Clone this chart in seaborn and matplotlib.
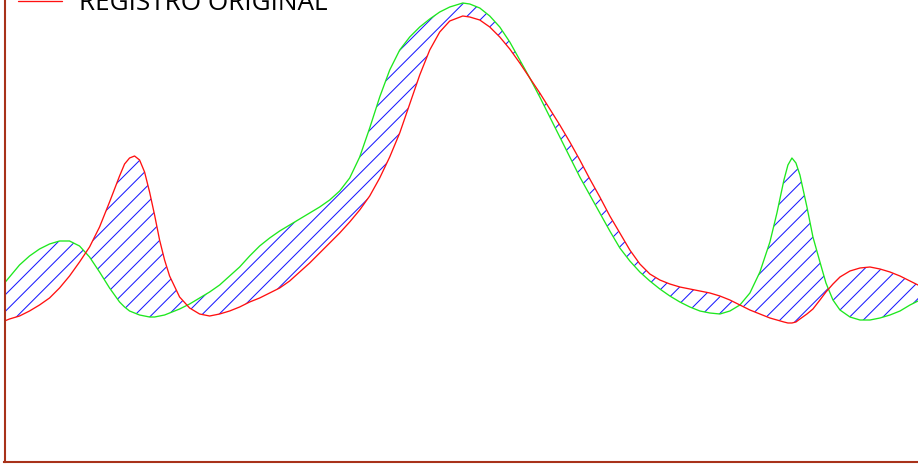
import numpy as np
import pandas as pd
import matplotlib
matplotlib.use('Agg')
import matplotlib.pyplot as plt
import seaborn as sns

# sample positions along the record
posicion = [5, 10, 20, 30, 40, 50, 60, 70, 80, 90, 100, 110, 120, 125, 130, 135, 140,
            145, 150, 155, 160, 165, 170, 180, 190, 200, 210, 220, 230, 240, 250, 260,
            270, 280, 290, 300, 310, 320, 330, 340, 350, 360, 370, 380, 390, 400, 410,
            420, 430, 440, 450, 463, 470, 480, 490, 500, 510, 520, 530, 540, 550, 560,
            570, 580, 590, 600, 610, 620, 630, 640, 650, 660, 670, 680, 690, 700, 710,
            720, 730, 740, 750, 760, 770, 777, 784, 788, 792, 796, 800, 807, 813, 820,
            826, 833, 840, 850, 860, 870, 880, 890, 900, 910, 918]

# values measured downward from the top of the panel (axis is inverted)
# original record (red)
registro_original = [321, 319, 316, 311, 305, 298, 288, 276, 262, 247, 227, 202, 176, 164,
                     158, 156, 160, 172, 192, 215, 240, 260, 276, 297, 308, 314, 316, 314,
                     311, 307, 302, 298, 293, 288, 281, 272, 263, 253, 243, 233, 222, 210,
                     196, 178, 157, 133, 104, 75, 50, 32, 21, 16, 17, 20, 27, 37, 49, 63,
                     78, 93, 109, 125, 142, 160, 179, 197, 216, 233, 250, 264, 274, 280,
                     284, 287, 289, 291, 293, 296, 300, 305, 310, 314, 318, 320, 322, 323,
                     323, 322, 319, 314, 309, 300, 292, 284, 277, 271, 268, 267, 269, 272,
                     276, 281, 285]

# adjusted record (green)
registro_ajustado = [283, 277, 265, 256, 249, 244, 241, 241, 246, 257, 272, 288, 302, 307,
                     311, 313, 315, 316, 317, 317, 316, 315, 313, 309, 304, 298, 292, 285,
                     276, 267, 256, 246, 238, 231, 225, 219, 213, 207, 200, 191, 178, 157,
                     128, 97, 70, 50, 37, 27, 19, 12, 7, 3, 4, 8, 16, 27, 42, 60, 78, 97,
                     117, 137, 157, 177, 195, 213, 231, 248, 261, 272, 281, 289, 296, 302,
                     307, 311, 313, 314, 311, 305, 293, 272, 242, 213, 180, 165, 158, 163,
                     175, 207, 237, 262, 283, 300, 310, 317, 320, 320, 318, 315, 311, 305,
                     301]

assert len(posicion) == len(registro_original) == len(registro_ajustado)

df = pd.DataFrame({'pos': posicion, 'orig': registro_original, 'ajus': registro_ajustado})

sns.set_style('white')
plt.rcParams['font.family'] = ['Open Sans', 'DejaVu Sans']
plt.rcParams['hatch.linewidth'] = 0.75

ROJO = '#ff1010'
VERDE = '#1ee81e'
AZUL = '#1a1aff'

fig = plt.figure(figsize=(9.18, 4.65), dpi=100)
ax = fig.add_axes([4.5 / 918, 3 / 465, 1 - 4.5 / 918, 1 - 3 / 465])

# hatched area between the two records
ax.fill_between(df['pos'], df['orig'], df['ajus'], facecolor='none',
                edgecolor=AZUL, hatch='//', linewidth=0)

sns.lineplot(data=df, x='pos', y='ajus', color=VERDE, lw=0.95, ax=ax)
sns.lineplot(data=df, x='pos', y='orig', color=ROJO, lw=0.95, ax=ax,
             label='REGISTRO ORIGINAL')
ax.vlines(df['pos'].iloc[0], df['orig'].iloc[0], df['ajus'].iloc[0],
          color=VERDE, lw=1.1)

ax.set_xlim(posicion[0], 918)
ax.set_ylim(462, 0)
ax.set_xticks([])
ax.set_yticks([])
ax.set_xlabel('')
ax.set_ylabel('')
for side in ('top', 'right'):
    ax.spines[side].set_visible(False)
for side in ('left', 'bottom'):
    ax.spines[side].set_color('#a8321a')
    ax.spines[side].set_linewidth(1.5)

ax.get_legend().remove()
handles, labels = ax.get_legend_handles_labels()
leg = fig.legend(handles, labels, loc='center left',
                 bbox_to_anchor=(18 / 918, 1 - 4 / 465), frameon=False,
                 fontsize=18.8, handlelength=1.7, handletextpad=0.62,
                 borderpad=0, borderaxespad=0)
for t in leg.get_texts():
    t.set_color('black')

fig.savefig('out.png', dpi=100)
